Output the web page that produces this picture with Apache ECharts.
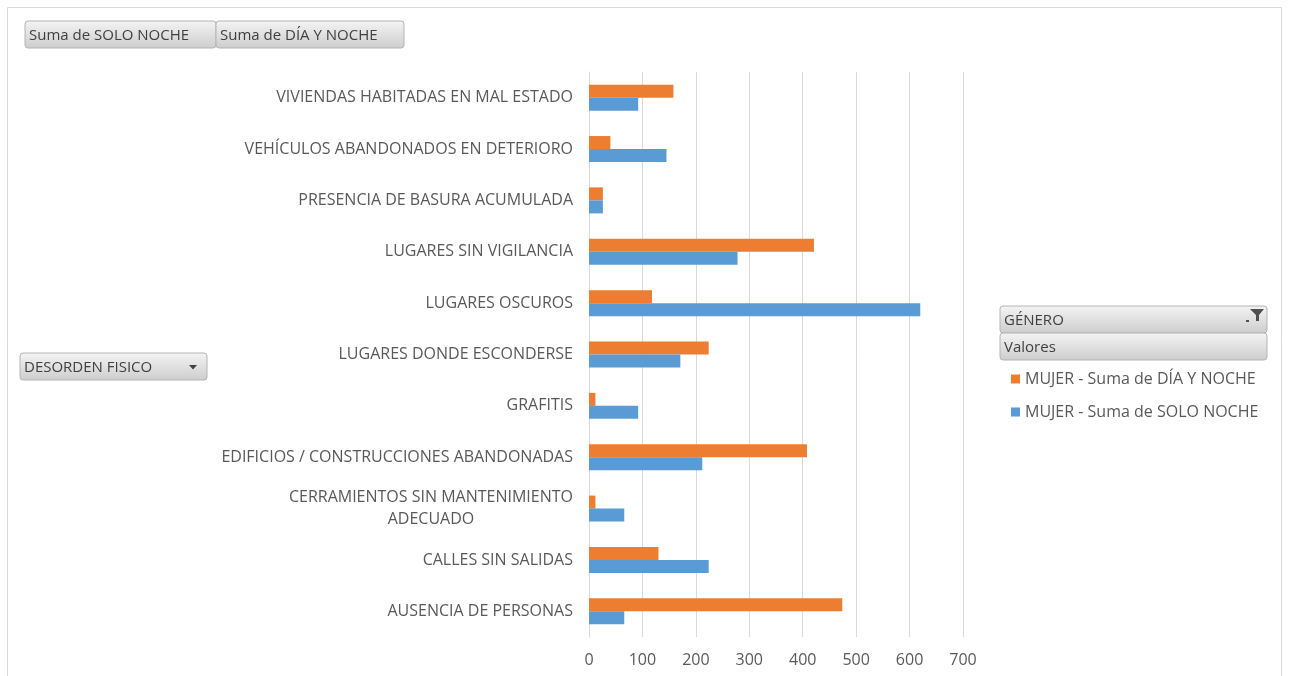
<!DOCTYPE html>
<html>
<head>
<meta charset="utf-8">
<style>
  html, body { margin: 0; padding: 0; background: #fff; }
  #chart { width: 1289px; height: 676px; }
</style>
<script src="https://cdn.jsdelivr.net/npm/echarts@6/dist/echarts.min.js"></script>
</head>
<body>
<div id="chart"></div>
<script>
// categorias, de abajo hacia arriba (como en el eje)
var categorias = [
  'AUSENCIA DE PERSONAS',
  'CALLES SIN SALIDAS',
  'CERRAMIENTOS SIN MANTENIMIENTO\nADECUADO',
  'EDIFICIOS / CONSTRUCCIONES ABANDONADAS',
  'GRAFITIS',
  'LUGARES DONDE ESCONDERSE',
  'LUGARES OSCUROS',
  'LUGARES SIN VIGILANCIA',
  'PRESENCIA DE BASURA ACUMULADA',
  'VEHÍCULOS ABANDONADOS EN DETERIORO',
  'VIVIENDAS HABITADAS EN MAL ESTADO'
]
var soloNoche = [66, 224, 66, 212, 92, 171, 620, 278, 26, 145, 92]
var diaYNoche = [474, 130, 12, 408, 12, 224, 118, 421, 26, 40, 158]
var ticksX = [0, 100, 200, 300, 400, 500, 600, 700]

var nombreDia = 'MUJER - Suma de DÍA Y NOCHE'
var nombreSolo = 'MUJER - Suma de SOLO NOCHE'

var gris = '#595959'
var fuente = '"Open Sans", sans-serif'

// boton estilo tabla dinamica
function boton(x, y, w, h, texto) {
  return {
    type: 'group',
    x: x,
    y: y,
    children: [
      {
        type: 'rect',
        shape: { x: 0, y: 0, width: w, height: h, r: 3 },
        style: {
          fill: new echarts.graphic.LinearGradient(0, 0, 0, 1, [
            { offset: 0, color: '#f4f4f4' },
            { offset: 1, color: '#cdcdcd' }
          ]),
          stroke: '#b4b4b4',
          lineWidth: 1
        }
      },
      {
        type: 'text',
        x: 4,
        y: h / 2 + 1,
        style: {
          text: texto,
          fill: '#404040',
          font: '15px ' + fuente,
          verticalAlign: 'middle'
        }
      }
    ]
  }
}

var chart = echarts.init(document.getElementById('chart'))

var option = {
  animation: false,
  grid: { left: 589, right: 326, top: 72, bottom: 39 },
  legend: {
    orient: 'vertical',
    left: 1006,
    top: 366,
    itemWidth: 9,
    itemHeight: 9,
    itemGap: 17,
    icon: 'rect',
    data: [nombreDia, nombreSolo],
    textStyle: { color: gris, fontSize: 16, fontFamily: fuente }
  },
  xAxis: {
    type: 'value',
    min: 0,
    max: 700,
    interval: 100,
    axisLine: { show: false },
    axisTick: { show: false },
    splitLine: { lineStyle: { color: '#d9d9d9' } },
    axisLabel: {
      color: gris,
      fontSize: 16,
      fontFamily: fuente,
      margin: 15,
      customValues: ticksX
    }
  },
  yAxis: {
    type: 'category',
    data: categorias,
    axisLine: { lineStyle: { color: '#d9d9d9' } },
    axisTick: { show: false },
    axisLabel: {
      color: gris,
      fontSize: 16,
      fontFamily: fuente,
      margin: 16,
      lineHeight: 22,
      formatter: function (v) {
        return v.split('\n').map(function (l) { return '{c|' + l + '}' }).join('\n')
      },
      rich: {
        c: { align: 'center', color: gris, fontSize: 16, fontFamily: fuente, lineHeight: 22 }
      }
    }
  },
  series: [
    {
      name: nombreDia,
      type: 'bar',
      data: diaYNoche,
      barWidth: 13,
      barGap: '0%',
      itemStyle: { color: '#ED7D31' }
    },
    {
      name: nombreSolo,
      type: 'bar',
      data: soloNoche,
      barWidth: 13,
      barGap: '0%',
      itemStyle: { color: '#5B9BD5' }
    }
  ],
  graphic: [
    {
      type: 'rect',
      shape: { x: 7.5, y: 7.5, width: 1274, height: 700 },
      style: { fill: 'none', stroke: '#d9d9d9', lineWidth: 1 },
      silent: true
    },
    boton(25, 21, 191, 27, 'Suma de SOLO NOCHE'),
    boton(216, 21, 188, 27, 'Suma de DÍA Y NOCHE'),
    boton(20, 353, 187, 27, 'DESORDEN FISICO'),
    {
      type: 'polygon',
      shape: { points: [[189, 365], [197, 365], [193, 369.5]] },
      style: { fill: '#404040' }
    },
    boton(1000, 306, 267, 27, 'GÉNERO'),
    boton(1000, 333, 267, 27, 'Valores'),
    // icono de filtro
    {
      type: 'polygon',
      shape: { points: [[1250, 309], [1264, 309], [1259, 315], [1259, 321], [1256, 321], [1256, 315]] },
      style: { fill: '#505050' }
    },
    {
      type: 'rect',
      shape: { x: 1246, y: 320, width: 3, height: 2 },
      style: { fill: '#505050' }
    }
  ]
}
chart.setOption(option)
</script>
</body>
</html>
